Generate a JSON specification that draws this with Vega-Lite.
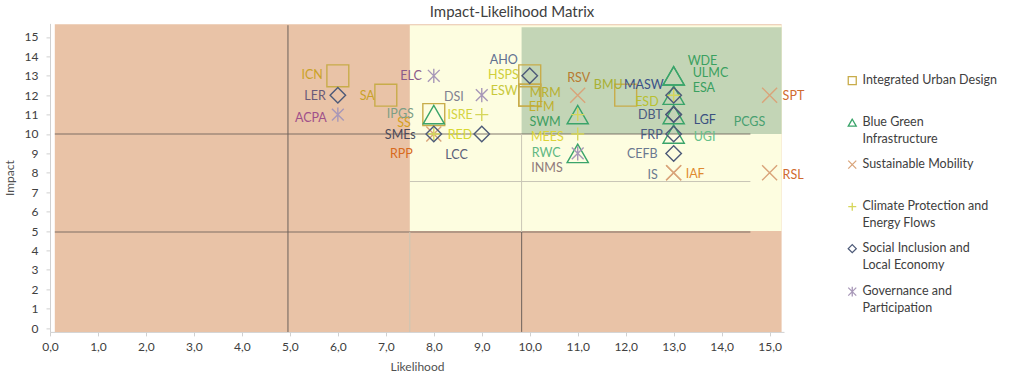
{
  "$schema": "https://vega.github.io/schema/vega-lite/v6.json",
  "width": 734,
  "height": 308.5,
  "autosize": {"type": "none"},
  "padding": {"left": 50, "top": 23.4, "right": 240, "bottom": 50.1},
  "background": "white",
  "title": {"text": "Impact-Likelihood Matrix", "font": "Lato", "fontSize": 15, "fontWeight": "normal", "color": "#404040", "anchor": "middle", "dx": 95, "offset": 3},
  "config": {
    "view": {"stroke": null},
    "style": {"guide-label": {"dy": -7, "lineHeight": 17.5}},
    "axis": {"labelFont": "Lato", "titleFont": "Lato", "labelFontSize": 12, "titleFontSize": 12, "labelColor": "#404040", "titleColor": "#505050", "titleFontWeight": "normal", "grid": false, "domainColor": "#d0d0d0", "tickColor": "#d0d0d0", "tickSize": 4},
    "legend": {"labelFont": "Lato", "labelFontSize": 12.5, "labelColor": "#404040", "symbolSize": 64, "symbolStrokeWidth": 1.3, "labelLimit": 300}
  },
  "datasets": {
    "regions": [
      {"x": 0.1, "x2": 15.25, "y": -0.2, "y2": 15.65, "zone": "low"},
      {"x": 7.5, "x2": 15.25, "y": 5, "y2": 15.6, "zone": "medium"},
      {"x": 9.83, "x2": 15.25, "y": 10, "y2": 15.5, "zone": "high"}
    ],
    "mainLines": [
      {"x": 0.1, "x2": 14.6, "y": 10, "y2": 10},
      {"x": 0.1, "x2": 14.6, "y": 4.95, "y2": 4.95},
      {"x": 4.96, "x2": 4.96, "y": -0.2, "y2": 15.6},
      {"x": 9.83, "x2": 9.83, "y": -0.2, "y2": 4.95}
    ],
    "faintLines": [
      {"x": 9.83, "x2": 9.83, "y": 4.95, "y2": 10},
      {"x": 7.5, "x2": 7.5, "y": -0.2, "y2": 4.95},
      {"x": 7.5, "x2": 14.6, "y": 7.55, "y2": 7.55}
    ],
    "items": [
      {"label": "ICN", "category": "Integrated Urban Design", "x": 6, "y": 13},
      {"label": "SA", "category": "Integrated Urban Design", "x": 7, "y": 12},
      {"label": "SS", "category": "Integrated Urban Design", "x": 8, "y": 11},
      {"label": "HSPS", "category": "Integrated Urban Design", "x": 10, "y": 13},
      {"label": "ESW", "category": "Integrated Urban Design", "x": 10, "y": 12},
      {"label": "MRM", "category": "Integrated Urban Design", "x": 10, "y": 12},
      {"label": "BMU", "category": "Integrated Urban Design", "x": 12, "y": 12},
      {"label": "IPGS", "category": "Blue Green Infrastructure", "x": 8, "y": 11},
      {"label": "SWM", "category": "Blue Green Infrastructure", "x": 11, "y": 11},
      {"label": "RWC", "category": "Blue Green Infrastructure", "x": 11, "y": 9},
      {"label": "WDE", "category": "Blue Green Infrastructure", "x": 13, "y": 13},
      {"label": "ULMC", "category": "Blue Green Infrastructure", "x": 13, "y": 13},
      {"label": "ESA", "category": "Blue Green Infrastructure", "x": 13, "y": 12},
      {"label": "PCGS", "category": "Blue Green Infrastructure", "x": 13, "y": 11},
      {"label": "UGI", "category": "Blue Green Infrastructure", "x": 13, "y": 10},
      {"label": "RPP", "category": "Sustainable Mobility", "x": 8, "y": 10},
      {"label": "RSV", "category": "Sustainable Mobility", "x": 11, "y": 12},
      {"label": "IAF", "category": "Sustainable Mobility", "x": 13, "y": 8},
      {"label": "IS", "category": "Sustainable Mobility", "x": 13, "y": 8},
      {"label": "SPT", "category": "Sustainable Mobility", "x": 15, "y": 12},
      {"label": "RSL", "category": "Sustainable Mobility", "x": 15, "y": 8},
      {"label": "RED", "category": "Climate Protection and Energy Flows", "x": 8, "y": 10},
      {"label": "ISRE", "category": "Climate Protection and Energy Flows", "x": 9, "y": 11},
      {"label": "EFM", "category": "Climate Protection and Energy Flows", "x": 11, "y": 11},
      {"label": "MEES", "category": "Climate Protection and Energy Flows", "x": 11, "y": 10},
      {"label": "ESD", "category": "Climate Protection and Energy Flows", "x": 13, "y": 12},
      {"label": "LER", "category": "Social Inclusion and Local Economy", "x": 6, "y": 12},
      {"label": "SMEs", "category": "Social Inclusion and Local Economy", "x": 8, "y": 10},
      {"label": "LCC", "category": "Social Inclusion and Local Economy", "x": 9, "y": 10},
      {"label": "AHO", "category": "Social Inclusion and Local Economy", "x": 10, "y": 13},
      {"label": "MASW", "category": "Social Inclusion and Local Economy", "x": 13, "y": 12},
      {"label": "DBT", "category": "Social Inclusion and Local Economy", "x": 13, "y": 11},
      {"label": "LGF", "category": "Social Inclusion and Local Economy", "x": 13, "y": 11},
      {"label": "FRP", "category": "Social Inclusion and Local Economy", "x": 13, "y": 10},
      {"label": "CEFB", "category": "Social Inclusion and Local Economy", "x": 13, "y": 9},
      {"label": "ACPA", "category": "Governance and Participation", "x": 6, "y": 11},
      {"label": "ELC", "category": "Governance and Participation", "x": 8, "y": 13},
      {"label": "DSI", "category": "Governance and Participation", "x": 9, "y": 12},
      {"label": "INMS", "category": "Governance and Participation", "x": 11, "y": 9}
    ]
  },
  "encoding": {
    "x": {"field": "x", "type": "quantitative", "title": "Likelihood", "scale": {"domain": [0, 15.3], "nice": false, "zero": false},
      "axis": {"values": [0,1,2,3,4,5,6,7,8,9,10,11,12,13,14,15], "labelExpr": "replace(format(datum.value, '.1f'), '.', ',')", "labelPadding": 13, "titlePadding": 9, "labelFlush": false}},
    "y": {"field": "y", "type": "quantitative", "title": "Impact", "scale": {"domain": [-0.2, 15.7], "nice": false, "zero": false},
      "axis": {"values": [0,1,2,3,4,5,6,7,8,9,10,11,12,13,14,15], "labelPadding": 8, "labelOffset": 7, "titlePadding": 8, "labelFlush": false}}
  },
  "layer": [
    {
      "data": {"name": "regions"},
      "transform": [{"filter": "datum.zone == 'low'"}],
      "mark": {"type": "rect", "color": "#e9c3a7"},
      "encoding": {"x2": {"field": "x2"}, "y2": {"field": "y2"}}
    },
    {
      "data": {"name": "regions"},
      "transform": [{"filter": "datum.zone == 'medium'"}],
      "mark": {"type": "rect", "color": "#fdfde0"},
      "encoding": {"x2": {"field": "x2"}, "y2": {"field": "y2"}}
    },
    {
      "data": {"name": "regions"},
      "transform": [{"filter": "datum.zone == 'high'"}],
      "mark": {"type": "rect", "color": "#c3d5b6"},
      "encoding": {"x2": {"field": "x2"}, "y2": {"field": "y2"}}
    },
    {
      "data": {"name": "mainLines"},
      "mark": {"type": "rule", "color": "#6d625a", "strokeWidth": 1.2, "opacity": 0.85},
      "encoding": {"x2": {"field": "x2"}, "y2": {"field": "y2"}}
    },
    {
      "data": {"name": "faintLines"},
      "mark": {"type": "rule", "color": "#c9c6b6", "strokeWidth": 1},
      "encoding": {"x2": {"field": "x2"}, "y2": {"field": "y2"}}
    },
    {
      "data": {"name": "items"},
      "encoding": {
        "color": {"field": "category", "type": "nominal",
          "scale": {"domain": ["Integrated Urban Design", "Blue Green Infrastructure", "Sustainable Mobility", "Climate Protection and Energy Flows", "Social Inclusion and Local Economy", "Governance and Participation"],
                    "range": ["#c8ac4a", "#3aa46a", "#d9a47a", "#d6d65a", "#4d5a78", "#a898b8"]},
          "legend": {"orient": "none", "legendX": 796, "legendY": 51, "title": null, "padding": 0, "rowPadding": 11, "labelOffset": 4, "labelBaseline": "top",
            "labelExpr": "datum.label == 'Blue Green Infrastructure' ? ['Blue Green', 'Infrastructure'] : datum.label == 'Climate Protection and Energy Flows' ? ['Climate Protection and', 'Energy Flows'] : datum.label == 'Social Inclusion and Local Economy' ? ['Social Inclusion and', 'Local Economy'] : datum.label == 'Governance and Participation' ? ['Governance and', 'Participation'] : [datum.label, '']"}},
        "shape": {"field": "category", "type": "nominal",
          "scale": {"domain": ["Integrated Urban Design", "Blue Green Infrastructure", "Sustainable Mobility", "Climate Protection and Energy Flows", "Social Inclusion and Local Economy", "Governance and Participation"],
                    "range": ["square", "triangle-up", "M-1,-1L1,1M-1,1L1,-1", "M-1,0L1,0M0,-1L0,1", "diamond", "M-1,-1L1,1M-1,1L1,-1M0,-1.2L0,1.2"]}}
      },
      "layer": [
        {"transform": [{"filter": "datum.category == 'Integrated Urban Design'"}], "mark": {"type": "point", "filled": false, "strokeWidth": 1.4, "opacity": 1, "size": 480}},
        {"transform": [{"filter": "datum.category == 'Blue Green Infrastructure'"}], "mark": {"type": "point", "filled": false, "strokeWidth": 1.4, "opacity": 1, "size": 450}},
        {"transform": [{"filter": "datum.category == 'Sustainable Mobility'"}], "mark": {"type": "point", "filled": false, "strokeWidth": 1.4, "opacity": 1, "size": 225}},
        {"transform": [{"filter": "datum.category == 'Climate Protection and Energy Flows'"}], "mark": {"type": "point", "filled": false, "strokeWidth": 1.4, "opacity": 1, "size": 170}},
        {"transform": [{"filter": "datum.category == 'Social Inclusion and Local Economy'"}], "mark": {"type": "point", "filled": false, "strokeWidth": 1.4, "opacity": 1, "size": 240}},
        {"transform": [{"filter": "datum.category == 'Governance and Participation'"}], "mark": {"type": "point", "filled": false, "strokeWidth": 1.4, "opacity": 1, "size": 140}}
      ]
    },
    {
      "data": {"name": "items"},
      "mark": {"type": "text", "font": "Lato", "fontSize": 12.5, "baseline": "middle",
        "align": {"expr": "indexof(['MRM','WDE','ULMC','ESA','PCGS','UGI','IAF','SPT','RSL','RED','LGF'], datum.label) >= 0 ? 'left' : (datum.label == 'RSV' ? 'center' : 'right')"},
        "dx": {"expr": "[-15,-11,-23,-11,-12,0,-3,-20,-17,-17,14,19,19,60,20,-21,1,12,-16,13,13,14,-9,-23,-14,-15,-12,-18,-14,-12,-10,-11,20,-11,-16,-11,-12,-18,-15][indexof(['ICN','SA','SS','HSPS','ESW','MRM','BMU','IPGS','SWM','RWC','WDE','ULMC','ESA','PCGS','UGI','RPP','RSV','IAF','IS','SPT','RSL','RED','ISRE','EFM','MEES','ESD','LER','SMEs','LCC','AHO','MASW','DBT','LGF','FRP','CEFB','ACPA','ELC','DSI','INMS'], datum.label)]"},
        "dy": {"expr": "[-1,1,8,-1,-4,-2,-10,-1,7,0,-15,-3,-7,7,3,20,-17,1,2,1,2,1,0,-8,3,7,1,1,21,-16,-10,0,5,1,1,3,0,2,15][indexof(['ICN','SA','SS','HSPS','ESW','MRM','BMU','IPGS','SWM','RWC','WDE','ULMC','ESA','PCGS','UGI','RPP','RSV','IAF','IS','SPT','RSL','RED','ISRE','EFM','MEES','ESD','LER','SMEs','LCC','AHO','MASW','DBT','LGF','FRP','CEFB','ACPA','ELC','DSI','INMS'], datum.label)]"}},
      "encoding": {
        "text": {"field": "label"},
        "fill": {"field": "label", "type": "nominal", "legend": null,
          "scale": {"domain": ["ICN","SA","SS","HSPS","ESW","MRM","BMU","IPGS","SWM","RWC","WDE","ULMC","ESA","PCGS","UGI","RPP","RSV","IAF","IS","SPT","RSL","RED","ISRE","EFM","MEES","ESD","LER","SMEs","LCC","AHO","MASW","DBT","LGF","FRP","CEFB","ACPA","ELC","DSI","INMS"],
                    "range": ["#c9a227","#c9a227","#d4a020","#cfcf3a","#c8c83a","#b8b030","#a8b032","#7d9e85","#3e9e60","#5fb882","#3aa060","#3aa060","#3aa060","#48a070","#66c08a","#d86a20","#b87a30","#e08a30","#6a7a90","#d06a30","#d06a30","#d8d830","#d4d440","#c0b030","#dcd438","#b8c030","#6a5a78","#4a4a5a","#5a6078","#607090","#3a5088","#4a5a80","#3a5080","#4a5a80","#6a7890","#a0508a","#8a5a8a","#808090","#907a7a"]}}
      }
    }
  ]
}
